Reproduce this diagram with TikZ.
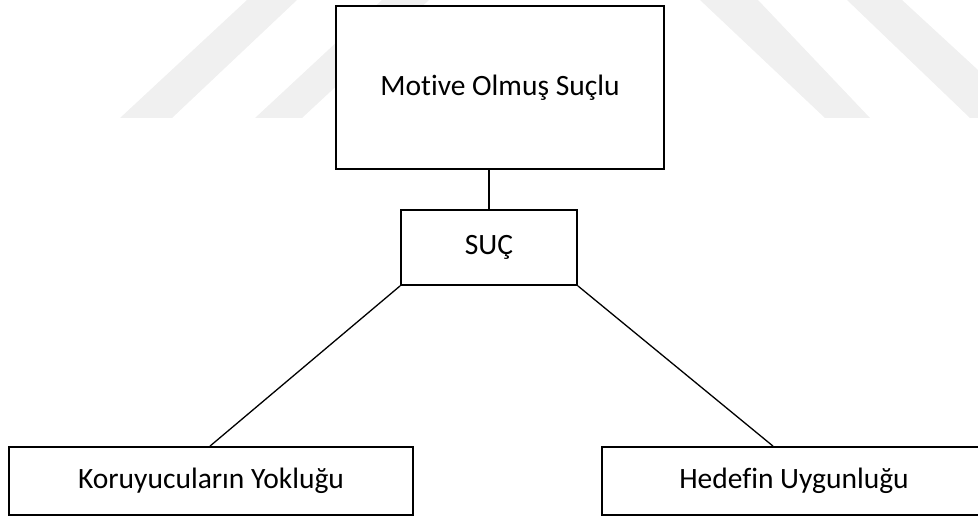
\documentclass[tikz,border=0pt]{standalone}
\usepackage{fontspec}
\setmainfont{Carlito}[Ligatures=NoCommon]
\usetikzlibrary{calc}
\tikzset{
  box/.style={draw=black, line width=1.8pt, fill=white, inner sep=0pt, font=\fontsize{29.5}{35}\selectfont},
  link/.style={draw=black, line width=1.3pt},
  wm/.style={fill=black!6, draw=none}
}
\begin{document}
\begin{tikzpicture}[x=1pt,y=-1pt]
\useasboundingbox (0,0) rectangle (978,516);
\clip (0,0) rectangle (978,516);
% faint watermark bands
\fill[wm] (120,118) -- (247,0) -- (297,0) -- (172,118) -- cycle;
\fill[wm] (255,118) -- (382,0) -- (429,0) -- (302,118) -- cycle;
\fill[wm] (700,0) -- (758,0) -- (870,118) -- (825,118) -- cycle;
\fill[wm] (847,0) -- (902,0) -- (978,70) -- (978,118) -- (970,118) -- cycle;
% nodes
\node[box, minimum width=328pt, minimum height=163pt] (mot) at (500,87.5) {Motive Olmuş Suçlu};
\node[box, minimum width=176pt, minimum height=75pt] (suc) at (489,247.5) {SUÇ};
\node[box, minimum width=404pt, minimum height=68pt] (kor) at (211,481) {Koruyucuların Yokluğu};
\node[box, minimum width=384pt, minimum height=68pt] (hed) at (794,481) {Hedefin Uygunluğu};
% connectors
\draw[link] (suc.north) -- (suc.north |- mot.south);
\draw[link] (suc.south west) -- ([xshift=-1pt]kor.north);
\draw[link] (suc.south east) -- ([xshift=-21pt]hed.north);
\end{tikzpicture}
\end{document}
